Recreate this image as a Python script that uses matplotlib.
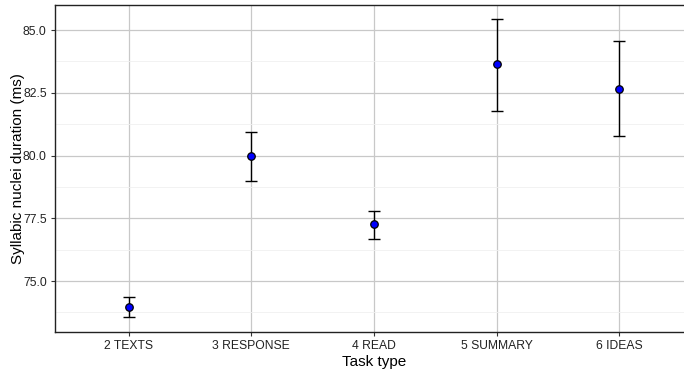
import matplotlib
matplotlib.use('Agg')
import matplotlib.pyplot as plt
import numpy as np

plt.rcParams['font.family'] = ['Liberation Sans', 'DejaVu Sans']

tasks = ['2 TEXTS', '3 RESPONSE', '4 READ', '5 SUMMARY', '6 IDEAS']
means = [73.96, 80.00, 77.27, 83.65, 82.65]
upper = [74.36, 80.94, 77.81, 85.44, 84.56]
lower = [73.55, 78.98, 76.69, 81.77, 80.78]


def main():
    fig = plt.figure(figsize=(6.84, 3.75), dpi=100)
    ax = fig.add_axes([55 / 684, 1 - 332 / 375, 638 / 684, 327 / 375])

    x = np.arange(1, len(tasks) + 1)
    m = np.array(means)
    err = [m - np.array(lower), np.array(upper) - m]

    ax.errorbar(x, m, yerr=err, fmt='none', ecolor='black', elinewidth=1.0,
                capsize=4.3, capthick=1.0, zorder=3)
    ax.plot(x, m, 'o', markersize=5.4, markerfacecolor='#0000ff',
            markeredgecolor='black', markeredgewidth=0.9, zorder=4)

    ax.set_xlim(0.4, len(tasks) + 0.6)
    ax.set_ylim(72.97, 86.0)
    ax.set_xticks(x)
    ax.set_xticklabels(tasks)
    ax.set_yticks([75.0, 77.5, 80.0, 82.5, 85.0])
    ax.set_yticklabels(['75.0', '77.5', '80.0', '82.5', '85.0'])
    ax.set_yticks([73.75, 76.25, 78.75, 81.25, 83.75], minor=True)

    ax.grid(True, which='major', color='#c8c8c8', linewidth=0.9, zorder=0)
    ax.grid(True, which='minor', axis='y', color='#f0f0f0', linewidth=0.6, zorder=0)
    ax.set_axisbelow(True)
    ax.tick_params(which='minor', length=0)
    ax.tick_params(which='major', length=3, width=0.8, color='#333333',
                   labelsize=8.7, labelcolor='#222222', pad=3)

    for s in ax.spines.values():
        s.set_color('#222222')
        s.set_linewidth(1.0)

    ax.set_xlabel('Task type', fontsize=11, labelpad=2)
    ax.set_ylabel('Syllabic nuclei duration (ms)', fontsize=11)
    ax.yaxis.set_label_coords((25 - 55) / 638, 0.5)

    fig.savefig('out.png', dpi=100)


if __name__ == '__main__':
    main()
